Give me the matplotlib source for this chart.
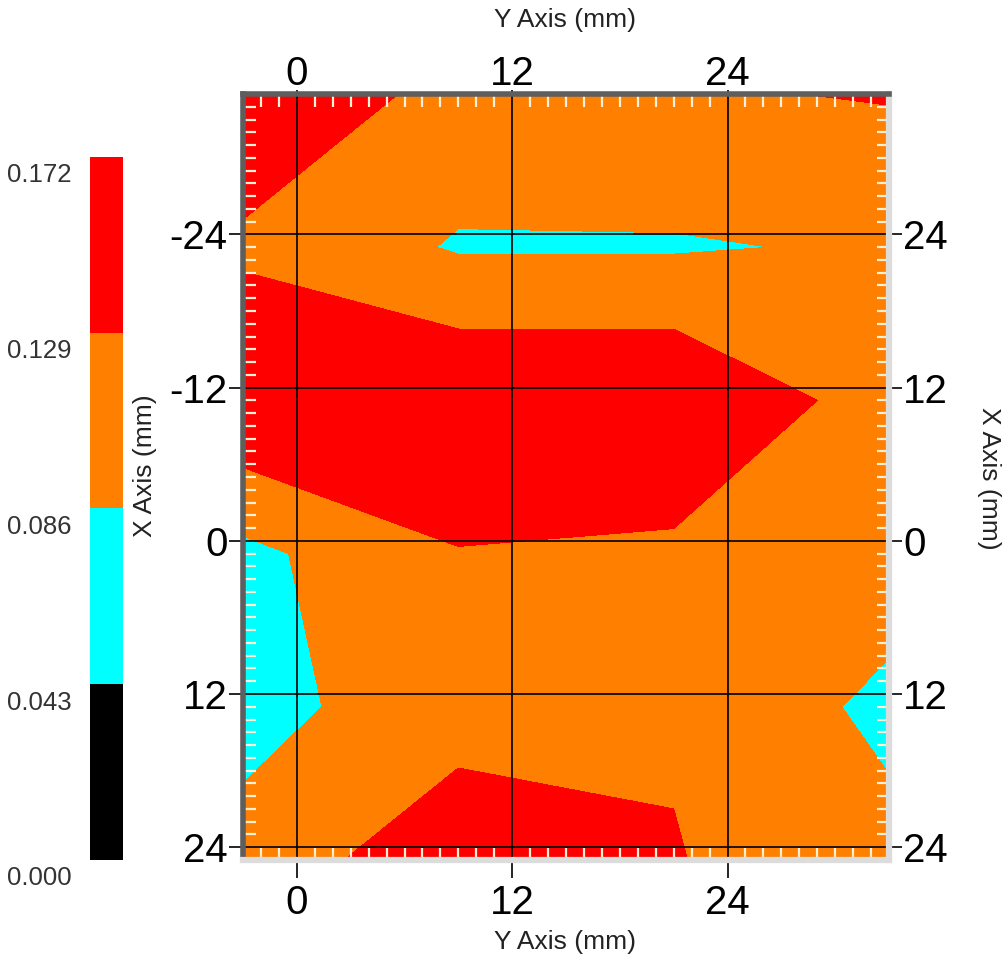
import numpy as np
import matplotlib.pyplot as plt
from matplotlib.ticker import MultipleLocator
from matplotlib.transforms import ScaledTranslation

plt.rcParams['font.family'] = ['Liberation Sans', 'DejaVu Sans']

# measurement grid (mm): horizontal = "Y Axis", vertical = "X Axis"
y_axis_pos = [-3, 9, 21, 33]
x_axis_pos = [-35, -23, -11, 1, 13, 25]
# measured value at each grid node, one row per X Axis position
values = [
    [0.165, 0.115, 0.1245, 0.132],
    [0.121, 0.082, 0.082, 0.091],
    [0.171, 0.170, 0.170, 0.1085],
    [0.075, 0.127, 0.121, 0.110],
    [0.075, 0.105, 0.125, 0.075],
    [0.097, 0.165, 0.131, 0.100],
]
levels = [0.000, 0.043, 0.086, 0.129, 0.172]
level_colors = ['#000000', '#00ffff', '#ff8000', '#ff0000']

y_ticks = [0, 12, 24]
x_ticks = [-24, -12, 0, 12, 24]
x_tick_labels = ['-24', '-12', '0', '12', '24']
x_tick_labels_right = ['24', '12', '0', '12', '24']


def main():
    fig = plt.figure(figsize=(10.05, 9.63), dpi=100)
    ax = fig.add_axes([0.2418, 0.1070, 0.6428, 0.7954])

    Y, X = np.meshgrid(y_axis_pos, x_axis_pos)
    ax.contourf(Y, X, np.array(values), levels=levels, colors=level_colors)

    ax.set_xlim(-3, 33)
    ax.set_ylim(25, -35)

    # grid + ticks
    ax.set_xticks(y_ticks)
    ax.set_yticks(x_ticks)
    ax.set_yticklabels(x_tick_labels)
    ax.xaxis.set_minor_locator(MultipleLocator(1))
    ax.yaxis.set_minor_locator(MultipleLocator(1))
    ax.grid(which='major', color='black', lw=1.2)
    ax.tick_params(which='minor', direction='in', length=9, width=1.6,
                   color='#fff0d4', top=True, right=True, bottom=True, left=True)
    ax.tick_params(axis='x', which='major', direction='out', length=13, width=1.2,
                   pad=4, labelsize=29)
    ax.tick_params(axis='y', which='major', direction='out', length=10, width=1.2,
                   pad=1, labelsize=29)

    for side in ['left', 'top']:
        ax.spines[side].set_color('#5e5e5e')
        ax.spines[side].set_linewidth(4)
    for side in ['right', 'bottom']:
        ax.spines[side].set_color('#dcdcdc')
        ax.spines[side].set_linewidth(4.5)

    top = ax.secondary_xaxis('top')
    top.set_xticks(y_ticks)
    top.tick_params(direction='out', length=3, width=1.2, pad=-2, labelsize=29)
    top.spines['top'].set_visible(False)

    right = ax.secondary_yaxis('right')
    right.set_yticks(x_ticks)
    right.set_yticklabels(x_tick_labels_right)
    right.tick_params(direction='out', length=9, width=1.2, pad=1, labelsize=29)
    right.spines['right'].set_visible(False)

    # axis titles
    fig.text(0.562, 1 - 20 / 963, 'Y Axis (mm)', ha='center', va='center',
             size=19, color='#222222')
    fig.text(0.562, 1 - 942 / 963, 'Y Axis (mm)', ha='center', va='center',
             size=19, color='#222222')
    fig.text(145 / 1005, 1 - 466 / 963, 'X Axis (mm)', ha='center', va='center',
             rotation=90, size=19, color='#222222')
    fig.text(989 / 1005, 1 - 478 / 963, 'X Axis (mm)', ha='center', va='center',
             rotation=-90, size=19, color='#222222')

    # colour scale
    cb = fig.add_axes([0.0896, 0.107, 0.0328, 0.730])
    for i in range(len(level_colors)):
        cb.bar(0, levels[i + 1] - levels[i], bottom=levels[i], width=1,
               color=level_colors[i])
    cb.set_xlim(-0.5, 0.5)
    cb.set_ylim(levels[0], levels[-1])
    cb.set_xticks([])
    cb.set_yticks(levels)
    cb.set_yticklabels(['%.3f' % v for v in levels])
    cb.tick_params(axis='y', length=0, pad=13, labelsize=18.5, labelcolor='#333333')
    shift = ScaledTranslation(0, -0.16, fig.dpi_scale_trans)
    for lab in cb.get_yticklabels():
        lab.set_transform(lab.get_transform() + shift)
    for s in cb.spines.values():
        s.set_visible(False)

    fig.savefig('out.png', dpi=100, facecolor='white')


if __name__ == '__main__':
    main()
